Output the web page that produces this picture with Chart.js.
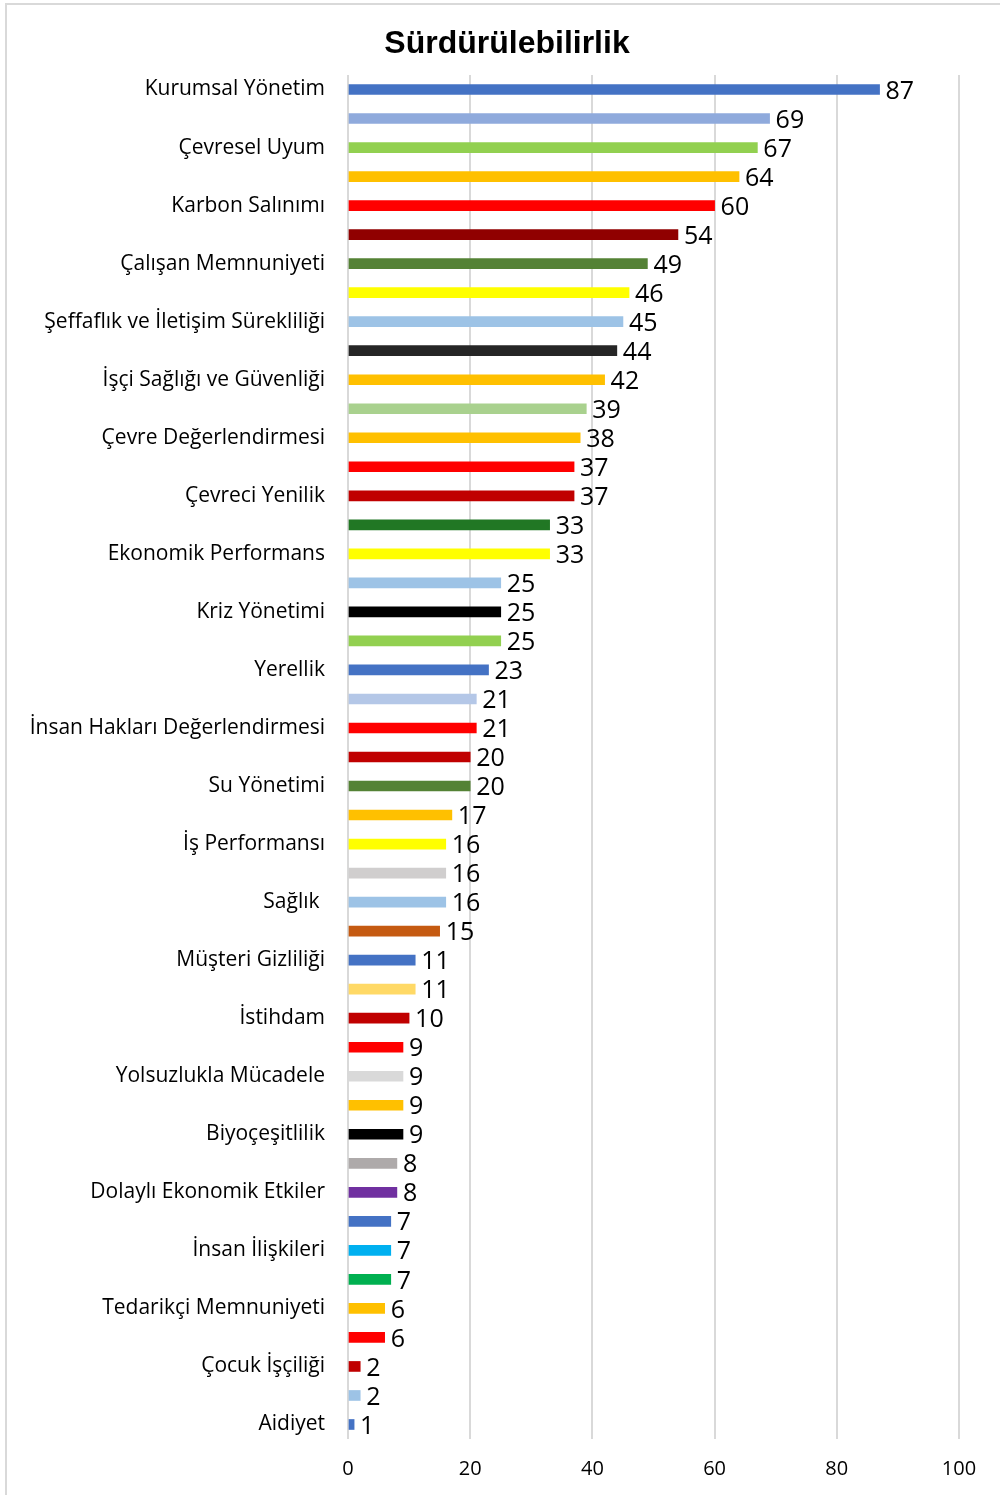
<!DOCTYPE html>
<html>
<head>
<meta charset="utf-8">
<script src="https://cdn.jsdelivr.net/npm/chart.js@4"></script>
<style>
    html, body { margin: 0; padding: 0; background: #fff; overflow: hidden; }
    #frame {
        position: absolute; left: 5px; top: 3px; width: 993px; height: 1490px;
        border-top: 2px solid #d9d9d9; border-left: 2px solid #d9d9d9;
    }
    #chart { position: absolute; left: 0; top: 0; }
</style>
</head>
<body>
<div id="frame"></div>
<canvas id="chart" width="1000" height="1495"></canvas>
<script>
// Only every other category is labelled on the axis
const categories = [
    "Kurumsal Yönetim", "", "Çevresel Uyum", "", "Karbon Salınımı", "",
    "Çalışan Memnuniyeti", "", "Şeffaflık ve İletişim Sürekliliği", "",
    "İşçi Sağlığı ve Güvenliği", "", "Çevre Değerlendirmesi", "",
    "Çevreci Yenilik", "", "Ekonomik Performans", "", "Kriz Yönetimi", "",
    "Yerellik", "", "İnsan Hakları Değerlendirmesi", "", "Su Yönetimi", "",
    "İş Performansı", "", "Sağlık ", "", "Müşteri Gizliliği", "",
    "İstihdam", "", "Yolsuzlukla Mücadele", "", "Biyoçeşitlilik", "",
    "Dolaylı Ekonomik Etkiler", "", "İnsan İlişkileri", "",
    "Tedarikçi Memnuniyeti", "", "Çocuk İşçiliği", "", "Aidiyet"
];

const values = [
    87, 69, 67, 64, 60, 54, 49, 46, 45, 44,
    42, 39, 38, 37, 37, 33, 33, 25, 25, 25,
    23, 21, 21, 20, 20, 17, 16, 16, 16, 15,
    11, 11, 10, 9, 9, 9, 9, 8, 8, 7,
    7, 7, 6, 6, 2, 2, 1
];

const barColors = [
    "#4472C4", "#8FAADC", "#92D050", "#FFC000", "#FF0000", "#900000", "#548235", "#FFFF00", "#9DC3E6", "#262626",
    "#FFC000", "#A9D18E", "#FFC000", "#FF0000", "#C00000", "#217724", "#FFFF00", "#9DC3E6", "#000000", "#92D050",
    "#4472C4", "#B4C7E7", "#FF0000", "#C00000", "#548235", "#FFC000", "#FFFF00", "#D0CECE", "#9DC3E6", "#C55A11",
    "#4472C4", "#FFD966", "#C00000", "#FF0000", "#D9D9D9", "#FFC000", "#000000", "#AEAAAA", "#7030A0", "#4472C4",
    "#00B0F0", "#00B050", "#FFC000", "#FF0000", "#C00000", "#9DC3E6", "#4472C4"
];

const xTicks = [0, 20, 40, 60, 80, 100];

const chartTitle = "Sürdürülebilirlik";
const FONT = "Open Sans";

// title drawn by hand so it can sit a bit right of centre like the original
const titlePlugin = {
    id: "titlePlugin",
    afterDraw(chart) {
        const ctx = chart.ctx;
        ctx.save();
        ctx.font = "bold 32px 'Liberation Sans'";
        ctx.fillStyle = "#000";
        ctx.textAlign = "center";
        ctx.textBaseline = "middle";
        ctx.fillText(chartTitle, 507, 44);
        ctx.restore();
    }
};

// value labels at the end of each bar
const valueLabels = {
    id: "valueLabels",
    afterDatasetsDraw(chart) {
        const ctx = chart.ctx;
        const meta = chart.getDatasetMeta(0);
        ctx.save();
        ctx.font = "25px '" + FONT + "'";
        ctx.fillStyle = "#000";
        ctx.textAlign = "left";
        ctx.textBaseline = "middle";
        meta.data.forEach((bar, i) => {
            ctx.fillText(String(values[i]), bar.x + 6, bar.y + 2);
        });
        ctx.restore();
    }
};

new Chart(document.getElementById("chart"), {
    type: "bar",
    data: {
        labels: categories,
        datasets: [{
            data: values,
            backgroundColor: barColors,
            barThickness: 10,
            borderWidth: 0
        }]
    },
    options: {
        indexAxis: "y",
        responsive: false,
        animation: false,
        layout: { padding: { left: 0, right: 41, top: 75, bottom: 0 } },
        plugins: {
            legend: { display: false },
            tooltip: { enabled: false },
            title: { display: false }
        },
        scales: {
            x: {
                min: 0,
                max: 100,
                afterBuildTicks: s => { s.ticks = xTicks.map(v => ({ value: v })); },
                afterFit: s => { s.height = 56; },
                ticks: { color: "#000", font: { family: FONT, size: 20 }, padding: 18 },
                grid: { color: "#d9d9d9", lineWidth: 2, drawTicks: false },
                border: { display: false }
            },
            y: {
                afterFit: s => { s.width = 348; },
                ticks: {
                    autoSkip: false,
                    color: "#000",
                    font: { family: FONT, size: 21 },
                    padding: 23
                },
                grid: { display: false, drawTicks: false },
                border: { display: false }
            }
        }
    },
    plugins: [titlePlugin, valueLabels]
});
</script>
</body>
</html>
